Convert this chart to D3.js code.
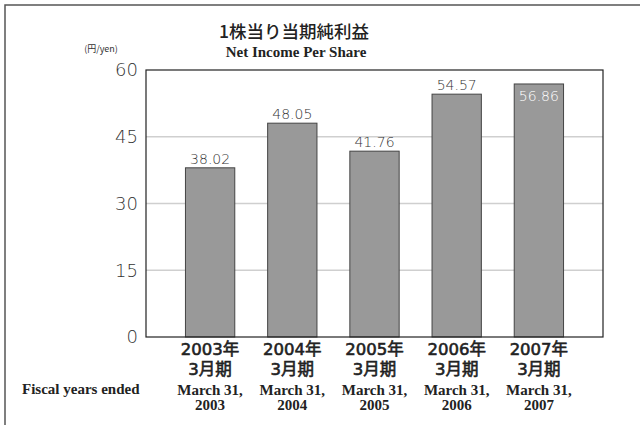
<!DOCTYPE html>
<html>
<head>
<meta charset="utf-8">
<script src="https://cdn.jsdelivr.net/npm/d3@7"></script>
<style>
  body { margin: 0; background: #fff; }
  .jp { font-family: "DejaVu Sans", "Noto Sans CJK JP", sans-serif; }
  .num { font-family: "DejaVu Sans", sans-serif; }
  .en { font-family: "Liberation Serif", "DejaVu Serif", serif; font-weight: bold; }
</style>
</head>
<body>
<svg id="chart" width="640" height="425"></svg>
<script>
// data
var yearsJp = ["2003年", "2004年", "2005年", "2006年", "2007年"];
var periodJp = ["3月期", "3月期", "3月期", "3月期", "3月期"];
var yearsEn = ["2003", "2004", "2005", "2006", "2007"];
var values = [38.02, 48.05, 41.76, 54.57, 56.86];
var yTicks = [0, 15, 30, 45, 60];

var svg = d3.select("#chart");

// outer frame (top + left only)
svg.append("path")
  .attr("d", "M5,425 V5 H640")
  .attr("fill", "none")
  .attr("stroke", "#555")
  .attr("stroke-width", 1.5);

var margin = {top: 70, left: 146, right: 37, bottom: 88};
var width = 640 - margin.left - margin.right,
    height = 425 - margin.top - margin.bottom;

var x = d3.scaleBand().domain(yearsEn).range([0, width]).paddingInner(0.4).paddingOuter(0.48);
var y = d3.scaleLinear().domain([0, 60]).range([height, 0]);

var g = svg.append("g").attr("transform", "translate(" + margin.left + "," + margin.top + ")");

// gridlines
g.selectAll("line.grid")
  .data(yTicks.filter(function(d) { return d > 0 && d < 60; }))
  .enter().append("line")
  .attr("x1", 0).attr("x2", width)
  .attr("y1", function(d) { return y(d); })
  .attr("y2", function(d) { return y(d); })
  .attr("stroke", "#cfcfcf")
  .attr("stroke-width", 1.5);

// bars
g.selectAll("rect.bar")
  .data(values)
  .enter().append("rect")
  .attr("x", function(d, i) { return x(yearsEn[i]); })
  .attr("y", function(d) { return y(d); })
  .attr("width", x.bandwidth())
  .attr("height", function(d) { return height - y(d); })
  .attr("fill", "#999")
  .attr("stroke", "#444")
  .attr("stroke-width", 1);

// plot frame
g.append("rect")
  .attr("width", width).attr("height", height)
  .attr("fill", "none")
  .attr("stroke", "#222")
  .attr("stroke-width", 1.2);

// value labels
g.selectAll("text.val")
  .data(values)
  .enter().append("text")
  .attr("class", "num")
  .attr("x", function(d, i) { return x(yearsEn[i]) + x.bandwidth() / 2; })
  .attr("y", function(d, i) { return i == values.length - 1 ? y(d) + 17 : y(d) - 4; })
  .attr("text-anchor", "middle")
  .attr("font-size", "14px")
  .attr("font-weight", 200)
  .attr("fill", function(d, i) { return i == values.length - 1 ? "#fff" : "#333"; })
  .text(function(d) { return d.toFixed(2); });

// y axis labels
var yAxis = d3.axisLeft(y).tickValues(yTicks).tickSize(0).tickPadding(8);
var ya = g.append("g").call(yAxis);
ya.select(".domain").remove();
ya.selectAll("text")
  .attr("class", "num")
  .attr("font-size", "18px")
  .attr("font-weight", 200)
  .attr("fill", "#333");

// x labels
var xl = g.append("g").attr("transform", "translate(0," + height + ")");
function rowText(arr, dy, cls, size, weight, sw) {
  xl.selectAll(null)
    .data(arr)
    .enter().append("text")
    .attr("class", cls)
    .attr("x", function(d, i) { return x(yearsEn[i]) + x.bandwidth() / 2; })
    .attr("y", dy)
    .attr("text-anchor", "middle")
    .attr("font-size", size)
    .attr("font-weight", weight)
    .attr("fill", "#222")
    .attr("stroke", sw ? "#222" : "none")
    .attr("stroke-width", sw || 0)
    .text(function(d) { return d; });
}
rowText(yearsJp, 18, "jp", "16.5px", "normal", 0.6);
rowText(periodJp, 38, "jp", "16.5px", "normal", 0.6);
rowText(yearsEn.map(function() { return "March 31,"; }), 58, "en", "15px", "bold");
rowText(yearsEn, 73, "en", "15px", "bold");

svg.append("text")
  .attr("class", "en")
  .attr("x", 22).attr("y", 394)
  .attr("font-size", "15px")
  .attr("fill", "#222")
  .text("Fiscal years ended");

// titles
svg.append("text")
  .attr("font-family", "Noto Sans CJK JP, sans-serif")
  .attr("x", 294).attr("y", 38)
  .attr("text-anchor", "middle")
  .attr("font-size", "17.5px")
  .attr("font-weight", 500)
  .attr("fill", "#222")
  .text("1株当り当期純利益");

svg.append("text")
  .attr("class", "en")
  .attr("x", 296).attr("y", 57)
  .attr("text-anchor", "middle")
  .attr("font-size", "15px")
  .attr("fill", "#222")
  .text("Net Income Per Share");

svg.append("text")
  .attr("font-family", "Noto Sans CJK JP, sans-serif")
  .attr("x", 101).attr("y", 52)
  .attr("text-anchor", "middle")
  .attr("font-size", "9px")
  .attr("fill", "#333")
  .text("(円/yen)");
</script>
</body>
</html>
